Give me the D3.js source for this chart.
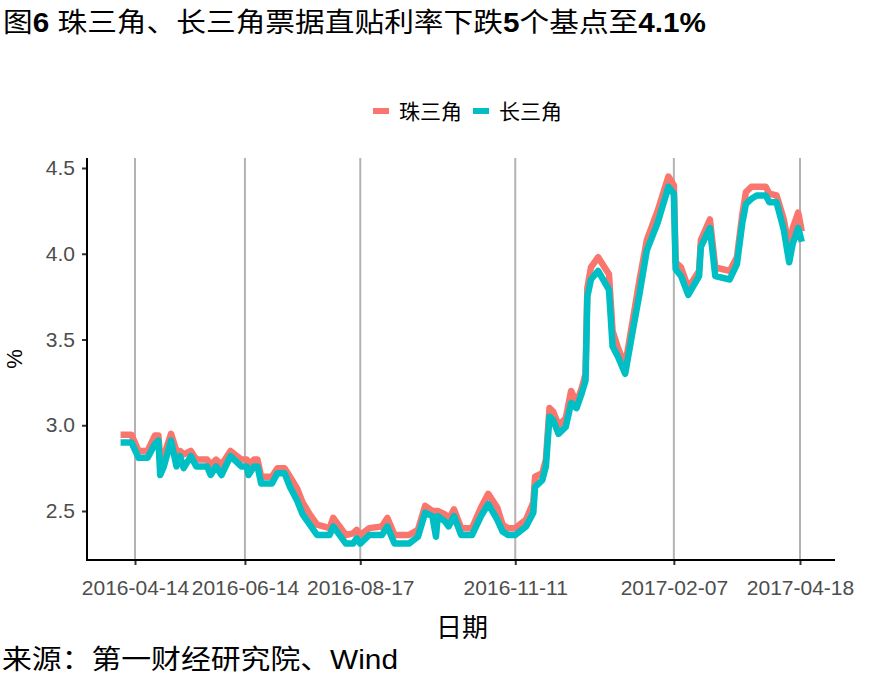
<!DOCTYPE html>
<html><head><meta charset="utf-8">
<script src="https://cdn.jsdelivr.net/npm/d3@7"></script>
<style>
html,body{margin:0;padding:0;background:#fff;}
svg{display:block;}
</style></head>
<body>
<svg id="chart" width="885" height="688"></svg>
<script>
const dates = ["2016-04-06","2016-04-12","2016-04-16","2016-04-21","2016-04-25","2016-04-27","2016-04-28","2016-04-30","2016-05-04","2016-05-07","2016-05-09","2016-05-11","2016-05-15","2016-05-18","2016-05-24","2016-05-26","2016-05-29","2016-06-01","2016-06-06","2016-06-12","2016-06-15","2016-06-16","2016-06-19","2016-06-21","2016-06-23","2016-06-29","2016-07-02","2016-07-06","2016-07-09","2016-07-13","2016-07-16","2016-07-20","2016-07-24","2016-07-31","2016-08-02","2016-08-09","2016-08-13","2016-08-15","2016-08-17","2016-08-22","2016-08-29","2016-09-01","2016-09-05","2016-09-13","2016-09-18","2016-09-22","2016-09-26","2016-09-28","2016-09-29","2016-10-03","2016-10-05","2016-10-08","2016-10-12","2016-10-18","2016-10-23","2016-10-27","2016-11-01","2016-11-04","2016-11-07","2016-11-11","2016-11-17","2016-11-21","2016-11-22","2016-11-26","2016-11-28","2016-11-30","2016-12-02","2016-12-05","2016-12-09","2016-12-12","2016-12-15","2016-12-18","2016-12-20","2016-12-21","2016-12-23","2016-12-27","2017-01-02","2017-01-04","2017-01-07","2017-01-11","2017-01-15","2017-01-19","2017-01-23","2017-01-29","2017-02-04","2017-02-07","2017-02-08","2017-02-11","2017-02-15","2017-02-21","2017-02-22","2017-02-27","2017-03-02","2017-03-10","2017-03-14","2017-03-17","2017-03-19","2017-03-22","2017-03-25","2017-03-30","2017-04-01","2017-04-05","2017-04-09","2017-04-12","2017-04-14","2017-04-17","2017-04-19"];

const zhuValues = [2.945,2.945,2.85,2.85,2.94,2.94,2.80,2.82,2.95,2.85,2.85,2.83,2.85,2.80,2.80,2.77,2.80,2.77,2.85,2.80,2.80,2.77,2.80,2.80,2.70,2.70,2.75,2.75,2.70,2.63,2.55,2.48,2.42,2.40,2.46,2.36,2.37,2.39,2.36,2.40,2.41,2.46,2.36,2.36,2.39,2.53,2.50,2.50,2.50,2.48,2.45,2.51,2.40,2.40,2.52,2.60,2.52,2.42,2.40,2.40,2.45,2.55,2.70,2.72,2.80,3.10,3.08,3.00,3.04,3.20,3.13,3.22,3.30,3.80,3.92,3.98,3.88,3.55,3.45,3.35,3.60,3.85,4.08,4.25,4.45,4.40,3.95,3.92,3.80,3.90,4.08,4.20,3.92,3.90,3.98,4.23,4.36,4.39,4.39,4.39,4.35,4.34,4.20,4.03,4.15,4.24,4.13];

const changValues = [2.90,2.90,2.81,2.81,2.89,2.91,2.71,2.76,2.91,2.76,2.82,2.75,2.82,2.76,2.76,2.71,2.76,2.71,2.82,2.76,2.76,2.71,2.76,2.76,2.66,2.66,2.72,2.72,2.64,2.56,2.48,2.42,2.36,2.36,2.41,2.31,2.31,2.34,2.31,2.36,2.36,2.41,2.31,2.31,2.35,2.49,2.47,2.35,2.47,2.44,2.41,2.47,2.36,2.36,2.47,2.54,2.45,2.38,2.36,2.36,2.41,2.49,2.64,2.68,2.76,3.05,3.03,2.95,2.99,3.13,3.10,3.19,3.26,3.75,3.85,3.90,3.79,3.46,3.40,3.30,3.54,3.77,4.02,4.18,4.39,4.35,3.91,3.87,3.76,3.87,4.04,4.15,3.87,3.85,3.94,4.18,4.29,4.32,4.34,4.34,4.30,4.30,4.14,3.95,4.06,4.15,4.07];

const seriesNames = ["珠三角","长三角"];
const seriesColors = ["#F8766D","#00BFC4"];
const xTickLabels = ["2016-04-14","2016-06-14","2016-08-17","2016-11-11","2017-02-07","2017-04-18"];
const yTickValues = [2.5,3.0,3.5,4.0,4.5];

const titleParts = [["图",false],["6",true],[" 珠三角、长三角票据直贴利率下跌",false],["5",true],["个基点至",false],["4.1%",true]];
const sourceText = "来源：第一财经研究院、Wind";
const xTitle = "日期";
const yTitle = "%";

const parse = d3.utcParse("%Y-%m-%d");
const svg = d3.select("#chart");
const CJK = "'Liberation Sans','Noto Sans CJK SC',sans-serif";

// plot area
const L = 87, R = 835, T = 158, B = 560;

const xa = d3.scaleUtc().domain([parse("2016-04-14"), parse("2017-04-18")]).range([135, 800]);
const x = d3.scaleUtc().domain([xa.invert(L), xa.invert(R)]).range([L, R]);
const ya = d3.scaleLinear().domain([2.5, 4.5]).range([511, 168]);
const y = d3.scaleLinear().domain([ya.invert(B), ya.invert(T)]).range([B, T]);

// grid lines (vertical only)
svg.append("g").selectAll("line").data(xTickLabels).join("line")
  .attr("x1", d => x(parse(d))).attr("x2", d => x(parse(d)))
  .attr("y1", T).attr("y2", B)
  .attr("stroke", "#B3B3B3").attr("stroke-width", 2);

// lines
const data = dates.map((d, i) => ({date: parse(d), zhu: zhuValues[i], chang: changValues[i]}));
const keys = ["zhu", "chang"];
keys.forEach((k, i) => {
  svg.append("path").datum(data)
    .attr("fill", "none")
    .attr("stroke", seriesColors[i])
    .attr("stroke-width", 6.5)
    .attr("stroke-linejoin", "round")
    .attr("d", d3.line().x(d => x(d.date)).y(d => y(d[k])));
});

// axes
const xAxis = svg.append("g").attr("transform", `translate(0,${B})`)
  .call(d3.axisBottom(x).tickValues(xTickLabels.map(parse)).tickFormat(d3.utcFormat("%Y-%m-%d")).tickSize(5).tickPadding(13));
xAxis.select(".domain").remove();
xAxis.selectAll(".tick line").attr("stroke", "#333333").attr("stroke-width", 2);
xAxis.selectAll(".tick text").attr("fill", "#4D4D4D").style("font-family", CJK).style("font-size", "21px").attr("dy", "0.8em");

const yAxis = svg.append("g").attr("transform", `translate(${L},0)`)
  .call(d3.axisLeft(y).tickValues(yTickValues).tickFormat(d3.format(".1f")).tickSize(5).tickPadding(7));
yAxis.select(".domain").remove();
yAxis.selectAll(".tick line").attr("stroke", "#333333").attr("stroke-width", 2);
yAxis.selectAll(".tick text").attr("fill", "#4D4D4D").style("font-family", CJK).style("font-size", "21px");

// axis lines
svg.append("line").attr("x1", L).attr("x2", L).attr("y1", T).attr("y2", B + 1).attr("stroke", "#000").attr("stroke-width", 2);
svg.append("line").attr("x1", L - 1).attr("x2", R).attr("y1", B).attr("y2", B).attr("stroke", "#000").attr("stroke-width", 2);

// axis titles
svg.append("text").attr("x", 462).attr("y", 637).attr("text-anchor", "middle")
  .style("font-family", CJK).style("font-size", "26px").text(xTitle);
svg.append("text").attr("transform", `translate(22,${(T + B) / 2}) rotate(-90)`).attr("text-anchor", "middle")
  .style("font-family", CJK).style("font-size", "22px").text(yTitle);

// title
const title = svg.append("text").attr("x", 3).attr("y", 32).style("font-family", CJK).style("font-size", "27px")
  .attr("textLength", 703).attr("lengthAdjust", "spacingAndGlyphs");
titleParts.forEach(([t, b]) => title.append("tspan").style("font-weight", b ? "bold" : "normal").text(t));

// source
svg.append("text").attr("x", 2).attr("y", 669).style("font-family", CJK).style("font-size", "27px")
  .attr("textLength", 396).attr("lengthAdjust", "spacingAndGlyphs").text(sourceText);

// legend
const leg = svg.append("g");
const legX = [373, 473];
seriesNames.forEach((n, i) => {
  leg.append("line").attr("x1", legX[i]).attr("x2", legX[i] + 16).attr("y1", 111).attr("y2", 111)
    .attr("stroke", seriesColors[i]).attr("stroke-width", 6);
  leg.append("text").attr("x", legX[i] + 26).attr("y", 119).style("font-family", CJK).style("font-size", "21px").text(n);
});
</script>
</body></html>
